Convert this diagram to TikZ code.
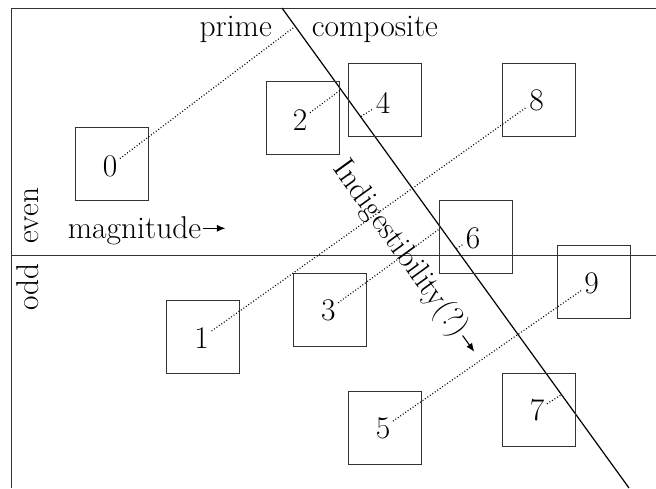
\documentclass[tikz,border=0pt]{standalone}
\usetikzlibrary{arrows.meta,calc}
\begin{document}
\begin{tikzpicture}[x=1pt,y=-1pt,
  every node/.style={font=\fontsize{31.5}{37}\selectfont},
  boxnode/.style={draw=black!80, line width=1pt, minimum width=73pt, minimum height=73pt, inner sep=0pt},
  numlabel/.style={inner sep=2.5pt},
  textlabel/.style={inner sep=0pt},
  rule/.style={draw=black!80, line width=1pt},
  diag/.style={draw=black, line width=1.2pt},
  proj/.style={line width=1.2pt, dash pattern=on 0.9pt off 2.1pt},
  axisarrow/.style={line width=1.1pt, -{Latex[length=8.5pt,width=7pt]}}]
\useasboundingbox (0,0) rectangle (656,488);
% frame and axes
\coordinate (tl) at (11,8);
\coordinate (tr) at (656,8);
\coordinate (bl) at (11,488);
\coordinate (ml) at (11,255);
\coordinate (mr) at (656,255);
\draw[rule] (tr) -- (tl) -- (bl);
\draw[rule] (ml) -- (mr);
% prime / composite divider
\coordinate (dtop) at (282,8);
\coordinate (dbot) at (629,488);
\draw[diag] (dtop) -- (dbot);
% boxes
\node[boxnode] (b0) at (111.5,163.5) {};
\node[boxnode] (b2) at (303,117.5) {};
\node[boxnode] (b4) at (385,99.7) {};
\node[boxnode] (b8) at (539.3,99.7) {};
\node[boxnode] (b6) at (475.5,236.5) {};
\node[boxnode] (b9) at (593.8,282) {};
\node[boxnode] (b3) at (330,309.5) {};
\node[boxnode] (b1) at (202.7,336.7) {};
\node[boxnode] (b5) at (384.7,427.7) {};
\node[boxnode] (b7) at (539.3,409.5) {};
% number labels
\node[numlabel] (n0) at (110,166) {0};
\node[numlabel] (n2) at (300,120) {2};
\node[numlabel] (n4) at (383,102.7) {4};
\node[numlabel] (n8) at (536.7,100) {8};
\node[numlabel] (n6) at (473,238) {6};
\node[numlabel] (n9) at (591.7,283.3) {9};
\node[numlabel] (n3) at (328.3,310) {3};
\node[numlabel] (n1) at (201.7,338) {1};
\node[numlabel] (n5) at (383,428) {5};
\node[numlabel] (n7) at (537,410) {7};
% projection ends on the divider
\coordinate (d0) at (293,28);
\coordinate (d2) at (340.5,90);
\coordinate (d4) at (361,116.5);
\coordinate (d3) at (440,228.5);
\coordinate (d6) at (456.5,248.5);
\coordinate (d7) at (561,395);
% dotted connectors
\draw[proj] (n0) -- (d0);
\draw[proj] (n2) -- (d2);
\draw[proj] (d4) -- (n4);
\draw[proj] (n1) -- (n8);
\draw[proj] (n3) -- (d3);
\draw[proj] (d6) -- (n6);
\draw[proj] (n5) -- (n9);
\draw[proj] (n7) -- (d7);
% texts
\node[textlabel, anchor=base east] (prime) at (272,36) {prime};
\node[textlabel, anchor=base west] (comp) at (311.7,36) {composite};
\node[textlabel, anchor=base west] (mag) at (67.7,238.3) {magnitude};
\node[textlabel, anchor=base west, rotate=90] (even) at (38,244) {even};
\node[textlabel, anchor=base west, rotate=90] (odd) at (38,311) {odd};
\node[textlabel, rotate=-54.14] (ind) at (400,249) {Indigestibility(?)};
% little axis arrows
\coordinate (magA) at ($(mag.base east)+(2,-10)$);
\coordinate (magB) at ($(magA)+(22,0)$);
\draw[axisarrow] (magA) -- (magB);
\coordinate (indA) at ($(ind.east)+(1.2,1.6)$);
\coordinate (indB) at ($(indA)+(11.7,16.2)$);
\draw[axisarrow] (indA) -- (indB);
\end{tikzpicture}
\end{document}
